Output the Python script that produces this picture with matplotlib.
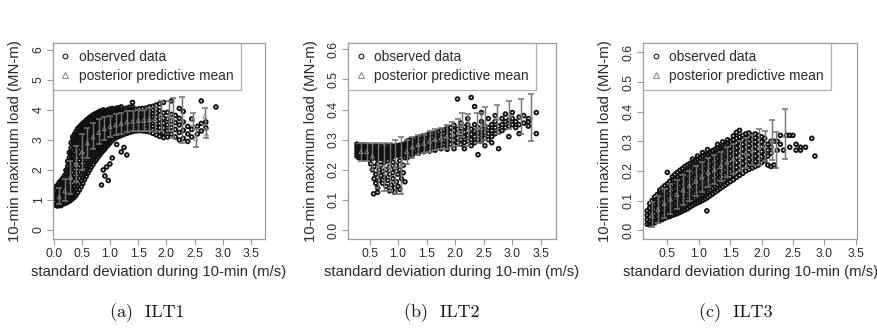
import matplotlib
matplotlib.use("Agg")
import matplotlib.pyplot as plt
from matplotlib.lines import Line2D

plt.rcParams["font.family"] = ["Liberation Sans", "DejaVu Sans"]

# ---------------------------------------------------------------- ILT1 data
# observed (std. dev. of wind speed, 10-min max load) grouped by std. dev.
ilt1_obs = [
    (0.04, [0.82, 0.93, 1.07, 1.16, 1.31, 1.44]),
    (0.07, [0.8, 0.89, 1.02, 1.14, 1.23, 1.37, 1.49]),
    (0.10, [0.84, 0.97, 1.06, 1.2, 1.29, 1.42, 1.58]),
    (0.13, [0.81, 0.9, 1.03, 1.17, 1.26, 1.38, 1.51, 1.64]),
    (0.16, [0.86, 0.99, 1.1, 1.21, 1.35, 1.46, 1.6, 1.71]),
    (0.19, [0.88, 0.98, 1.12, 1.24, 1.33, 1.49, 1.62, 1.8]),
    (0.22, [0.9, 1.03, 1.15, 1.27, 1.42, 1.55, 1.7, 1.86, 1.99]),
    (0.25, [0.93, 1.05, 1.19, 1.34, 1.46, 1.63, 1.79, 1.97, 2.12, 2.29]),
    (0.28, [0.96, 1.1, 1.24, 1.39, 1.55, 1.72, 1.9, 2.06, 2.24, 2.41, 2.58]),
    (0.31, [1.0, 1.15, 1.31, 1.46, 1.64, 1.81, 2.0, 2.17, 2.36, 2.55, 2.73, 2.9]),
    (0.34, [1.05, 1.2, 1.37, 1.55, 1.73, 1.92, 2.1, 2.29, 2.47, 2.66, 2.84, 2.98, 3.1]),
    (0.37, [1.1, 1.27, 1.45, 1.64, 1.83, 2.02, 2.21, 2.4, 2.58, 2.77, 2.93, 3.07, 3.19]),
    (0.40, [1.16, 1.34, 1.53, 1.73, 1.92, 2.12, 2.31, 2.5, 2.69, 2.86, 3.02, 3.16, 3.29]),
    (0.43, [1.25, 1.44, 1.63, 1.83, 2.02, 2.22, 2.41, 2.6, 2.78, 2.95, 3.1, 3.24, 3.38]),
    (0.46, [1.34, 1.53, 1.73, 1.93, 2.12, 2.32, 2.51, 2.69, 2.87, 3.03, 3.18, 3.31, 3.44]),
    (0.49, [1.44, 1.63, 1.83, 2.02, 2.22, 2.41, 2.6, 2.78, 2.95, 3.11, 3.26, 3.38, 3.5]),
    (0.52, [1.55, 1.74, 1.93, 2.12, 2.31, 2.5, 2.68, 2.86, 3.03, 3.18, 3.32, 3.44, 3.55]),
    (0.55, [1.68, 1.86, 2.04, 2.22, 2.41, 2.59, 2.77, 2.94, 3.1, 3.25, 3.38, 3.49, 3.6]),
    (0.58, [1.79, 1.96, 2.14, 2.32, 2.5, 2.67, 2.84, 3.0, 3.16, 3.3, 3.43, 3.55, 3.66]),
    (0.61, [1.9, 2.07, 2.24, 2.41, 2.58, 2.75, 2.91, 3.07, 3.22, 3.36, 3.48, 3.6, 3.7]),
    (0.64, [2.0, 2.16, 2.33, 2.5, 2.66, 2.83, 2.98, 3.13, 3.27, 3.4, 3.53, 3.64, 3.75]),
    (0.67, [2.1, 2.26, 2.42, 2.58, 2.74, 2.9, 3.05, 3.19, 3.33, 3.46, 3.58, 3.69, 3.79]),
    (0.70, [2.19, 2.35, 2.51, 2.66, 2.82, 2.97, 3.11, 3.25, 3.38, 3.5, 3.62, 3.73, 3.83]),
    (0.73, [2.28, 2.43, 2.59, 2.74, 2.89, 3.03, 3.17, 3.31, 3.43, 3.55, 3.66, 3.76, 3.86]),
    (0.76, [2.35, 2.5, 2.65, 2.8, 2.95, 3.09, 3.23, 3.36, 3.48, 3.6, 3.7, 3.8, 3.89]),
    (0.79, [2.43, 2.58, 2.72, 2.87, 3.01, 3.15, 3.28, 3.41, 3.53, 3.64, 3.74, 3.83, 3.92]),
    (0.82, [2.5, 2.65, 2.79, 2.93, 3.07, 3.2, 3.33, 3.45, 3.57, 3.68, 3.78, 3.87, 3.95]),
    (0.85, [1.5, 2.58, 2.72, 2.86, 2.99, 3.12, 3.25, 3.38, 3.5, 3.61, 3.71, 3.81, 3.9, 3.97]),
    (0.88, [2.0, 2.64, 2.78, 2.92, 3.05, 3.18, 3.3, 3.42, 3.54, 3.65, 3.75, 3.84, 3.93, 4.0]),
    (0.91, [1.8, 2.7, 2.84, 2.97, 3.1, 3.23, 3.35, 3.47, 3.58, 3.68, 3.78, 3.87, 3.95]),
    (0.94, [2.1, 2.78, 2.91, 3.04, 3.16, 3.28, 3.4, 3.51, 3.62, 3.72, 3.81, 3.9, 3.98]),
    (0.97, [1.65, 2.84, 2.97, 3.09, 3.21, 3.33, 3.44, 3.55, 3.65, 3.75, 3.84, 3.93, 4.01]),
    (1.00, [2.2, 2.9, 3.02, 3.14, 3.26, 3.37, 3.48, 3.58, 3.68, 3.78, 3.87, 3.95, 4.03]),
    (1.04, [2.4, 2.98, 3.1, 3.21, 3.32, 3.43, 3.53, 3.63, 3.72, 3.81, 3.9, 3.98, 4.05]),
    (1.08, [3.04, 3.15, 3.26, 3.37, 3.47, 3.57, 3.66, 3.75, 3.84, 3.92, 4.0]),
    (1.12, [2.85, 3.09, 3.2, 3.3, 3.41, 3.51, 3.6, 3.69, 3.78, 3.87, 3.95, 4.06]),
    (1.16, [3.12, 3.23, 3.34, 3.44, 3.54, 3.63, 3.72, 3.8, 3.89, 3.97, 4.07]),
    (1.20, [2.6, 3.15, 3.26, 3.37, 3.47, 3.56, 3.65, 3.74, 3.83, 3.91, 4.0, 4.1]),
    (1.25, [2.75, 3.19, 3.3, 3.4, 3.5, 3.59, 3.68, 3.77, 3.85, 3.94, 4.03]),
    (1.30, [2.5, 3.22, 3.33, 3.43, 3.52, 3.61, 3.7, 3.79, 3.88, 3.96, 4.06]),
    (1.35, [3.25, 3.35, 3.45, 3.54, 3.63, 3.72, 3.81, 3.9, 3.99, 4.09]),
    (1.40, [3.28, 3.38, 3.47, 3.56, 3.65, 3.74, 3.83, 3.92, 4.01, 4.1, 4.25]),
    (1.46, [3.3, 3.39, 3.48, 3.57, 3.66, 3.75, 3.84, 3.93, 4.02]),
    (1.52, [3.31, 3.4, 3.49, 3.58, 3.67, 3.76, 3.85, 3.94, 4.04]),
    (1.58, [3.3, 3.4, 3.5, 3.59, 3.68, 3.77, 3.86, 3.95, 4.05]),
    (1.64, [3.29, 3.39, 3.49, 3.59, 3.68, 3.78, 3.87, 3.96, 4.06]),
    (1.70, [3.27, 3.38, 3.48, 3.58, 3.68, 3.78, 3.88, 3.98, 4.1]),
    (1.76, [3.22, 3.34, 3.45, 3.56, 3.66, 3.77, 3.88, 4.0, 4.12]),
    (1.82, [3.17, 3.3, 3.42, 3.54, 3.65, 3.77, 3.9, 4.03, 4.16]),
    (1.88, [3.12, 3.27, 3.41, 3.55, 3.68, 3.82, 3.97, 4.2]),
    (1.95, [3.08, 3.24, 3.4, 3.56, 3.72, 3.9, 4.25]),
    (2.02, [3.1, 3.3, 3.5, 3.7, 3.92]),
    (2.09, [3.2, 3.42, 3.63, 3.85, 4.3]),
    (2.16, [3.1, 3.35, 3.58, 3.82]),
    (2.23, [3.0, 3.25, 3.5, 3.72, 4.05]),
    (2.30, [3.05, 3.32, 3.6, 3.95]),
    (2.38, [2.95, 3.2, 3.45]),
    (2.45, [3.1, 3.35, 3.7]),
    (2.55, [3.2, 3.45]),
    (2.62, [3.3, 3.55, 4.3]),
    (2.70, [3.4, 3.6]),
    (2.88, [4.1]),
]
# posterior predictive mean with 95% interval
ilt1_pp_sd = [0.1, 0.2, 0.3, 0.4, 0.5, 0.6, 0.7, 0.8, 0.9, 1.0, 1.1, 1.2, 1.3,
              1.4, 1.5, 1.6, 1.7, 1.8, 1.9, 2.05, 2.12, 2.28, 2.47, 2.52, 2.68, 2.71]
ilt1_pp_mean = [1.1, 1.3, 1.75, 2.2, 2.6, 2.9, 3.1, 3.25, 3.38, 3.45, 3.5, 3.55, 3.6,
                3.62, 3.65, 3.65, 3.68, 3.68, 3.8, 3.8, 3.73, 3.66, 3.68, 3.05, 3.78, 3.2]
ilt1_pp_lo = [0.85, 0.95, 1.2, 1.6, 2.0, 2.4, 2.7, 2.85, 3.0, 3.1, 3.15, 3.2, 3.25,
              3.3, 3.3, 3.3, 3.3, 3.25, 3.3, 3.3, 3.07, 2.9, 3.45, 2.75, 3.5, 3.05]
ilt1_pp_hi = [1.4, 1.7, 2.3, 2.8, 3.2, 3.4, 3.55, 3.7, 3.75, 3.8, 3.85, 3.9, 3.95,
              3.95, 4.0, 4.0, 4.05, 4.1, 4.3, 4.3, 4.4, 4.43, 3.9, 3.35, 4.05, 3.35]

# ---------------------------------------------------------------- ILT2 data
ilt2_obs = [
    (0.28, [0.245, 0.255, 0.265, 0.275, 0.285]),
    (0.31, [0.24, 0.25, 0.258, 0.268, 0.278]),
    (0.34, [0.246, 0.253, 0.262, 0.272, 0.282]),
    (0.37, [0.241, 0.25, 0.26, 0.27, 0.279]),
    (0.40, [0.238, 0.248, 0.256, 0.264, 0.274, 0.283]),
    (0.43, [0.242, 0.251, 0.261, 0.268, 0.277]),
    (0.46, [0.24, 0.25, 0.26, 0.268, 0.276]),
    (0.49, [0.236, 0.246, 0.255, 0.263, 0.272, 0.28]),
    (0.52, [0.24, 0.25, 0.258, 0.266, 0.275, 0.22]),
    (0.55, [0.238, 0.248, 0.256, 0.265, 0.274, 0.2]),
    (0.57, [0.12]),
    (0.58, [0.241, 0.252, 0.262, 0.271, 0.21, 0.17]),
    (0.61, [0.24, 0.25, 0.26, 0.27, 0.28, 0.185, 0.155]),
    (0.64, [0.236, 0.246, 0.256, 0.266, 0.276, 0.22, 0.14, 0.125]),
    (0.67, [0.24, 0.25, 0.26, 0.27, 0.2, 0.165]),
    (0.70, [0.238, 0.248, 0.258, 0.268, 0.278, 0.215, 0.18]),
    (0.73, [0.243, 0.253, 0.263, 0.273, 0.155, 0.195]),
    (0.76, [0.24, 0.25, 0.26, 0.27, 0.225, 0.175]),
    (0.79, [0.242, 0.252, 0.262, 0.272, 0.28, 0.2, 0.145]),
    (0.82, [0.24, 0.25, 0.26, 0.27, 0.23, 0.165]),
    (0.85, [0.245, 0.255, 0.265, 0.275, 0.21, 0.185, 0.13]),
    (0.88, [0.24, 0.25, 0.26, 0.27, 0.28, 0.15]),
    (0.91, [0.245, 0.255, 0.265, 0.275, 0.225, 0.19, 0.17]),
    (0.94, [0.248, 0.258, 0.268, 0.278, 0.205, 0.14, 0.125]),
    (0.97, [0.25, 0.26, 0.27, 0.28, 0.215, 0.16]),
    (1.00, [0.248, 0.258, 0.268, 0.278, 0.185, 0.145]),
    (1.03, [0.252, 0.262, 0.272, 0.282, 0.23, 0.2, 0.135]),
    (1.06, [0.25, 0.26, 0.27, 0.28, 0.17]),
    (1.09, [0.254, 0.264, 0.274, 0.284, 0.215, 0.19]),
    (1.12, [0.255, 0.265, 0.275, 0.285, 0.24, 0.16]),
    (1.16, [0.255, 0.265, 0.275, 0.285, 0.295, 0.24]),
    (1.20, [0.258, 0.268, 0.278, 0.288, 0.298, 0.245]),
    (1.25, [0.26, 0.27, 0.28, 0.29, 0.3, 0.25]),
    (1.30, [0.262, 0.272, 0.282, 0.292, 0.302]),
    (1.35, [0.265, 0.275, 0.285, 0.295, 0.305, 0.255]),
    (1.40, [0.268, 0.278, 0.288, 0.298, 0.31]),
    (1.45, [0.27, 0.28, 0.29, 0.3, 0.312, 0.26]),
    (1.50, [0.272, 0.282, 0.292, 0.302, 0.315]),
    (1.55, [0.275, 0.285, 0.295, 0.305, 0.318, 0.262]),
    (1.60, [0.276, 0.286, 0.296, 0.308, 0.32]),
    (1.65, [0.278, 0.29, 0.3, 0.31, 0.322, 0.265]),
    (1.70, [0.28, 0.29, 0.302, 0.312, 0.325]),
    (1.75, [0.282, 0.294, 0.305, 0.316, 0.33, 0.27]),
    (1.80, [0.284, 0.296, 0.308, 0.32, 0.332]),
    (1.86, [0.28, 0.295, 0.31, 0.322, 0.338, 0.268]),
    (1.92, [0.285, 0.3, 0.312, 0.325, 0.34]),
    (1.98, [0.282, 0.298, 0.315, 0.33, 0.348, 0.27]),
    (2.04, [0.29, 0.305, 0.32, 0.335, 0.435]),
    (2.10, [0.285, 0.3, 0.318, 0.338, 0.355]),
    (2.16, [0.29, 0.31, 0.325, 0.342, 0.27]),
    (2.22, [0.295, 0.315, 0.33, 0.35, 0.37]),
    (2.28, [0.3, 0.318, 0.335, 0.44, 0.28]),
    (2.34, [0.29, 0.31, 0.328, 0.35, 0.41]),
    (2.40, [0.3, 0.322, 0.34, 0.25]),
    (2.46, [0.295, 0.315, 0.335, 0.36, 0.39]),
    (2.52, [0.305, 0.325, 0.345, 0.28]),
    (2.58, [0.3, 0.32, 0.34, 0.37]),
    (2.64, [0.31, 0.33, 0.35, 0.29]),
    (2.70, [0.32, 0.34, 0.36, 0.38]),
    (2.76, [0.325, 0.345, 0.27]),
    (2.82, [0.33, 0.35, 0.37]),
    (2.88, [0.34, 0.36, 0.385]),
    (2.94, [0.345, 0.365, 0.31]),
    (3.00, [0.35, 0.37, 0.39]),
    (3.06, [0.34, 0.36]),
    (3.12, [0.35, 0.375, 0.32]),
    (3.20, [0.355, 0.38]),
    (3.28, [0.36, 0.345, 0.37]),
    (3.42, [0.39, 0.32]),
]
ilt2_pp_sd = [0.35, 0.45, 0.55, 0.65, 0.75, 0.85, 0.95, 1.05, 1.15, 1.25, 1.35, 1.45, 1.55,
              1.65, 1.75, 1.85, 1.95, 2.05, 2.12, 2.23, 2.39, 2.45, 2.53, 2.73, 2.95, 3.15, 3.33]
ilt2_pp_mean = [0.26, 0.26, 0.245, 0.215, 0.21, 0.21, 0.21, 0.215, 0.26, 0.275, 0.283, 0.288, 0.295,
                0.3, 0.305, 0.31, 0.318, 0.325, 0.35, 0.333, 0.34, 0.34, 0.35, 0.37, 0.38, 0.378, 0.375]
ilt2_pp_lo = [0.23, 0.23, 0.2, 0.14, 0.13, 0.13, 0.12, 0.12, 0.22, 0.24, 0.25, 0.255, 0.26,
              0.265, 0.27, 0.27, 0.275, 0.28, 0.31, 0.28, 0.29, 0.29, 0.3, 0.32, 0.335, 0.319, 0.296]
ilt2_pp_hi = [0.29, 0.29, 0.29, 0.29, 0.29, 0.29, 0.3, 0.31, 0.3, 0.31, 0.315, 0.32, 0.33,
              0.335, 0.34, 0.35, 0.36, 0.37, 0.39, 0.386, 0.39, 0.39, 0.41, 0.414, 0.43, 0.436, 0.453]

# ---------------------------------------------------------------- ILT3 data
ilt3_obs = [
    (0.18, [0.02, 0.035, 0.05, 0.065]),
    (0.22, [0.018, 0.03, 0.045, 0.06, 0.075, 0.09]),
    (0.26, [0.022, 0.035, 0.05, 0.065, 0.08, 0.1]),
    (0.30, [0.025, 0.04, 0.055, 0.07, 0.085, 0.1, 0.112]),
    (0.34, [0.03, 0.045, 0.06, 0.075, 0.09, 0.105, 0.12]),
    (0.38, [0.032, 0.048, 0.063, 0.078, 0.094, 0.11, 0.125, 0.135]),
    (0.42, [0.036, 0.052, 0.068, 0.084, 0.1, 0.116, 0.13, 0.142]),
    (0.46, [0.04, 0.056, 0.072, 0.088, 0.104, 0.12, 0.136, 0.15]),
    (0.50, [0.044, 0.06, 0.076, 0.092, 0.108, 0.124, 0.14, 0.156, 0.195]),
    (0.54, [0.046, 0.063, 0.08, 0.097, 0.114, 0.13, 0.147, 0.165]),
    (0.58, [0.05, 0.067, 0.084, 0.1, 0.118, 0.135, 0.152, 0.17, 0.18]),
    (0.62, [0.053, 0.07, 0.088, 0.105, 0.122, 0.14, 0.157, 0.175, 0.188]),
    (0.66, [0.056, 0.074, 0.092, 0.11, 0.128, 0.145, 0.162, 0.18, 0.195]),
    (0.70, [0.06, 0.078, 0.096, 0.114, 0.132, 0.15, 0.168, 0.186, 0.202]),
    (0.74, [0.064, 0.082, 0.1, 0.118, 0.136, 0.155, 0.173, 0.19, 0.208]),
    (0.78, [0.068, 0.087, 0.105, 0.123, 0.141, 0.16, 0.178, 0.196, 0.215]),
    (0.82, [0.072, 0.09, 0.108, 0.127, 0.145, 0.164, 0.183, 0.2, 0.22]),
    (0.86, [0.078, 0.096, 0.114, 0.132, 0.15, 0.168, 0.187, 0.205, 0.225]),
    (0.90, [0.083, 0.1, 0.118, 0.137, 0.155, 0.173, 0.192, 0.21, 0.23, 0.24]),
    (0.94, [0.088, 0.106, 0.124, 0.142, 0.16, 0.178, 0.197, 0.215, 0.234]),
    (0.98, [0.092, 0.11, 0.128, 0.146, 0.165, 0.183, 0.202, 0.22, 0.24, 0.25]),
    (1.02, [0.096, 0.115, 0.133, 0.151, 0.17, 0.188, 0.206, 0.225, 0.244]),
    (1.06, [0.1, 0.119, 0.137, 0.156, 0.175, 0.193, 0.212, 0.23, 0.25, 0.262]),
    (1.10, [0.105, 0.124, 0.142, 0.161, 0.18, 0.198, 0.216, 0.235, 0.254]),
    (1.13, [0.065]),
    (1.14, [0.11, 0.128, 0.147, 0.166, 0.184, 0.203, 0.222, 0.24, 0.258, 0.272]),
    (1.18, [0.116, 0.134, 0.152, 0.17, 0.19, 0.208, 0.226, 0.245, 0.263]),
    (1.22, [0.122, 0.14, 0.158, 0.176, 0.195, 0.213, 0.232, 0.25, 0.268]),
    (1.26, [0.128, 0.146, 0.164, 0.182, 0.2, 0.218, 0.236, 0.255, 0.273]),
    (1.30, [0.134, 0.152, 0.17, 0.188, 0.206, 0.224, 0.242, 0.26, 0.278, 0.29]),
    (1.34, [0.14, 0.157, 0.175, 0.193, 0.21, 0.228, 0.246, 0.264, 0.282]),
    (1.38, [0.146, 0.163, 0.18, 0.198, 0.216, 0.233, 0.25, 0.268, 0.286, 0.298]),
    (1.42, [0.152, 0.17, 0.187, 0.204, 0.222, 0.24, 0.256, 0.274, 0.29]),
    (1.46, [0.158, 0.175, 0.192, 0.21, 0.226, 0.244, 0.26, 0.278, 0.295, 0.305]),
    (1.50, [0.164, 0.18, 0.198, 0.215, 0.232, 0.25, 0.266, 0.283, 0.3]),
    (1.55, [0.17, 0.187, 0.204, 0.222, 0.238, 0.255, 0.272, 0.288, 0.305, 0.318]),
    (1.60, [0.178, 0.195, 0.212, 0.228, 0.245, 0.262, 0.278, 0.295, 0.31, 0.33]),
    (1.65, [0.185, 0.202, 0.218, 0.235, 0.25, 0.267, 0.283, 0.3, 0.315, 0.337]),
    (1.70, [0.192, 0.208, 0.225, 0.242, 0.258, 0.274, 0.29, 0.305, 0.32]),
    (1.75, [0.2, 0.216, 0.232, 0.248, 0.264, 0.28, 0.296, 0.312, 0.325]),
    (1.80, [0.205, 0.222, 0.238, 0.254, 0.27, 0.286, 0.3, 0.315, 0.328]),
    (1.85, [0.21, 0.228, 0.245, 0.26, 0.276, 0.292, 0.306, 0.32]),
    (1.90, [0.215, 0.232, 0.25, 0.266, 0.282, 0.298, 0.312, 0.325]),
    (1.95, [0.22, 0.24, 0.258, 0.275, 0.29, 0.305, 0.32]),
    (2.00, [0.228, 0.248, 0.265, 0.282, 0.298, 0.315]),
    (2.05, [0.235, 0.255, 0.275, 0.292, 0.31]),
    (2.10, [0.22, 0.25, 0.27, 0.29]),
    (2.15, [0.215, 0.26, 0.28, 0.3]),
    (2.20, [0.22, 0.3]),
    (2.25, [0.3, 0.27]),
    (2.30, [0.32, 0.29]),
    (2.35, [0.27]),
    (2.40, [0.32]),
    (2.45, [0.32, 0.28]),
    (2.50, [0.32]),
    (2.55, [0.29, 0.27]),
    (2.62, [0.28, 0.27]),
    (2.70, [0.28]),
    (2.80, [0.31]),
    (2.85, [0.25]),
]
ilt3_pp_sd = [0.25, 0.35, 0.45, 0.55, 0.65, 0.75, 0.85, 0.95, 1.05, 1.15, 1.25, 1.35, 1.45,
              1.55, 1.65, 1.75, 1.85, 1.96, 2.05, 2.17, 2.23, 2.37]
ilt3_pp_mean = [0.05, 0.07, 0.09, 0.105, 0.12, 0.135, 0.15, 0.165, 0.18, 0.195, 0.205, 0.215, 0.23,
                0.24, 0.25, 0.26, 0.27, 0.28, 0.285, 0.3, 0.27, 0.32]
ilt3_pp_lo = [0.01, 0.025, 0.04, 0.055, 0.07, 0.085, 0.1, 0.115, 0.13, 0.145, 0.155, 0.165, 0.18,
              0.19, 0.2, 0.21, 0.22, 0.22, 0.235, 0.236, 0.21, 0.24]
ilt3_pp_hi = [0.095, 0.115, 0.14, 0.155, 0.17, 0.185, 0.2, 0.215, 0.23, 0.245, 0.255, 0.265, 0.28,
              0.29, 0.3, 0.31, 0.32, 0.34, 0.335, 0.373, 0.33, 0.41]

captions = ["(a)  ILT1", "(b)  ILT2", "(c)  ILT3"]
x_ticks = [[0.0, 0.5, 1.0, 1.5, 2.0, 2.5, 3.0, 3.5],
           [0.5, 1.0, 1.5, 2.0, 2.5, 3.0, 3.5],
           [0.5, 1.0, 1.5, 2.0, 2.5, 3.0, 3.5]]
y_ticks = [[0, 1, 2, 3, 4, 5, 6],
           [0.0, 0.1, 0.2, 0.3, 0.4, 0.5, 0.6],
           [0.0, 0.1, 0.2, 0.3, 0.4, 0.5, 0.6]]
y_fmt = ["{:.0f}", "{:.1f}", "{:.1f}"]


def flatten(groups):
    xs = [sd for sd, loads in groups for _ in loads]
    ys = [v for _, loads in groups for v in loads]
    return xs, ys


panels = [
    dict(obs=ilt1_obs, sd=ilt1_pp_sd, mean=ilt1_pp_mean, lo=ilt1_pp_lo, hi=ilt1_pp_hi,
         rect=[53 / 877, 1 - 239.3 / 329, 212 / 877, 196 / 329],
         xlim=(-0.01, 3.75), ylim=(-0.31, 6.22)),
    dict(obs=ilt2_obs, sd=ilt2_pp_sd, mean=ilt2_pp_mean, lo=ilt2_pp_lo, hi=ilt2_pp_hi,
         rect=[348.3 / 877, 1 - 239.3 / 329, 207.4 / 877, 196 / 329],
         xlim=(0.128, 3.76), ylim=(-0.031, 0.62)),
    dict(obs=ilt3_obs, sd=ilt3_pp_sd, mean=ilt3_pp_mean, lo=ilt3_pp_lo, hi=ilt3_pp_hi,
         rect=[643.3 / 877, 1 - 239.3 / 329, 213.7 / 877, 196 / 329],
         xlim=(0.118, 3.52), ylim=(-0.031, 0.631)),
]
caption_x = [147 / 877, 442 / 877, 736 / 877]

fig = plt.figure(figsize=(8.77, 3.29), dpi=100)
frame_col = "#9a9a9a"
text_col = "#2a2a2a"

for i, p in enumerate(panels):
    ax = fig.add_axes(p["rect"])
    xs, ys = flatten(p["obs"])
    ax.scatter(xs, ys, s=7, marker="o", facecolors="none", edgecolors="#101010",
               linewidths=1.35, zorder=2)
    lo_err = [m - l for m, l in zip(p["mean"], p["lo"])]
    hi_err = [h - m for m, h in zip(p["mean"], p["hi"])]
    ax.errorbar(p["sd"], p["mean"], yerr=[lo_err, hi_err], fmt="none", ecolor="#747474",
                elinewidth=1.05, capsize=2.2, capthick=1.15, zorder=3)
    ax.scatter(p["sd"], p["mean"], s=8, marker="^", facecolors="none", edgecolors="#8a8a8a",
               linewidths=0.6, zorder=4)

    ax.set_xlim(*p["xlim"])
    ax.set_ylim(*p["ylim"])
    ax.set_xticks(x_ticks[i])
    ax.set_xticklabels([f"{t:.1f}" for t in x_ticks[i]])
    ax.set_yticks(y_ticks[i])
    ax.set_yticklabels([y_fmt[i].format(t) for t in y_ticks[i]])
    for lab in ax.get_yticklabels():
        lab.set_rotation(90)
        lab.set_va("center")
        lab.set_ha("right")
    ax.tick_params(axis="both", direction="out", length=4, width=0.8, color=frame_col,
                   labelsize=8.8, labelcolor=text_col, pad=2)
    for sp in ax.spines.values():
        sp.set_color(frame_col)
        sp.set_linewidth(0.9)

    ax.set_xlabel("standard deviation during 10-min (m/s)", fontsize=10.7, color=text_col)
    ax.set_ylabel("10-min maximum load (MN-m)", fontsize=10.7, color=text_col)
    ax.xaxis.set_label_coords(0.5, -0.13)
    ax.yaxis.set_label_coords(-0.146, 0.5)

    handles = [
        Line2D([], [], ls="", marker="o", ms=3.4, mfc="none", mec="#1e1e1e", mew=0.8),
        Line2D([], [], ls="", marker="^", ms=4.0, mfc="none", mec="#8a8a8a", mew=0.8),
    ]
    leg = ax.legend(handles, ["observed data", "posterior predictive mean"],
                    loc="upper left", bbox_to_anchor=(0, 1), borderaxespad=0,
                    frameon=True, fancybox=False, fontsize=9.9, handlelength=0.8,
                    handletextpad=0.6, borderpad=0.5, labelspacing=0.35)
    leg.get_frame().set_edgecolor(frame_col)
    leg.get_frame().set_linewidth(0.9)
    for t in leg.get_texts():
        t.set_color(text_col)

    fig.text(caption_x[i], 1 - 313 / 329, captions[i], ha="center", va="center",
             fontsize=13, family="cmr10", color="#111111")

fig.savefig("out.png", dpi=100, facecolor="white")
